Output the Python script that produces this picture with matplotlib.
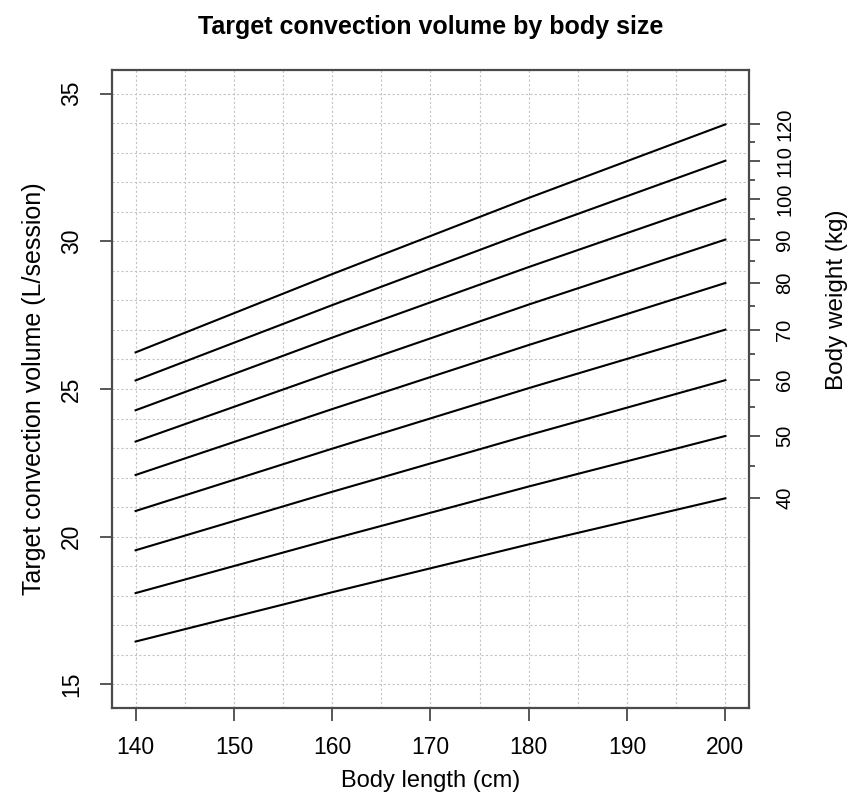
import matplotlib
matplotlib.use("Agg")
import matplotlib.pyplot as plt
import numpy as np

plt.rcParams["font.family"] = ["Liberation Sans", "DejaVu Sans"]

body_length = [140, 160, 180, 200]
# body weight (kg), one line per weight
weights = [40, 50, 60, 70, 80, 90, 100, 110, 120]
# target convection volume (L/session) read at each body length
vol_140 = [16.45, 18.09, 19.54, 20.87, 22.09, 23.22, 24.28, 25.29, 26.24]
vol_160 = [18.12, 19.92, 21.52, 22.98, 24.32, 25.57, 26.74, 27.84, 28.89]
vol_180 = [19.74, 21.70, 23.44, 25.03, 26.49, 27.86, 29.13, 30.33, 31.47]
vol_200 = [21.30, 23.41, 25.30, 27.01, 28.59, 30.06, 31.43, 32.73, 33.96]
# in-between weights (45, 55, ... 115 kg) marked as minor ticks at 200 cm
vol_200_half = [22.38, 24.38, 26.17, 27.81, 29.33, 30.75, 32.09, 33.35]

x_ticks = [140, 150, 160, 170, 180, 190, 200]
y_ticks = [15, 20, 25, 30, 35]

GRID = dict(color="#c4c4c4", linestyle=(0, (2, 2)), lw=0.8, zorder=0)
SPINE = "#4a4a4a"


def main() -> None:
    fig = plt.figure(figsize=(8.49, 7.97), dpi=100)
    ax = fig.add_axes([112 / 849, 1 - 708 / 797, 637 / 849, 638 / 797])

    vols = np.array([vol_140, vol_160, vol_180, vol_200])
    for i in range(len(weights)):
        ax.plot(body_length, vols[:, i], color="black", lw=1.5, zorder=3)

    ax.set_xlim(137.6, 202.4)
    ax.set_ylim(14.2, 35.8)

    # dotted grid: every 5 cm and every 1 L
    for gx in np.arange(140, 201, 5):
        ax.axvline(gx, **GRID)
    for gy in np.arange(15, 36, 1):
        ax.axhline(gy, **GRID)

    ax.set_xticks(x_ticks)
    ax.set_yticks(y_ticks)
    ax.set_yticklabels([str(v) for v in y_ticks], rotation=90, va="center")
    ax.tick_params(axis="both", direction="out", length=9, width=1.3,
                   color=SPINE, labelsize=16.5, pad=11)
    ax.tick_params(axis="y", pad=12)
    for s in ax.spines.values():
        s.set_color(SPINE)
        s.set_linewidth(1.6)

    ax.set_xlabel("Body length (cm)", fontsize=17, labelpad=8)
    ax.set_ylabel("Target convection volume (L/session)", fontsize=18, labelpad=10)
    ax.set_title("Target convection volume by body size", fontsize=18,
                 fontweight="bold", pad=26)

    # right axis: body weight at each line end
    ax2 = ax.twinx()
    ax2.set_ylim(ax.get_ylim())
    ax2.set_yticks(vol_200)
    ax2.set_yticklabels([str(w) for w in weights], rotation=90, va="center")
    ax2.set_yticks(vol_200_half, minor=True)
    ax2.tick_params(axis="y", which="major", direction="out", length=8,
                    width=1.3, color=SPINE, labelsize=14.5, pad=11)
    ax2.tick_params(axis="y", which="minor", direction="out", length=4,
                    width=1.3, color=SPINE)
    for s in ax2.spines.values():
        s.set_visible(False)
    fig.text(837 / 849, 1 - 300 / 797, "Body weight (kg)", rotation=90,
             ha="center", va="center", fontsize=17.5)

    fig.savefig("out.png", dpi=100)


if __name__ == "__main__":
    main()
